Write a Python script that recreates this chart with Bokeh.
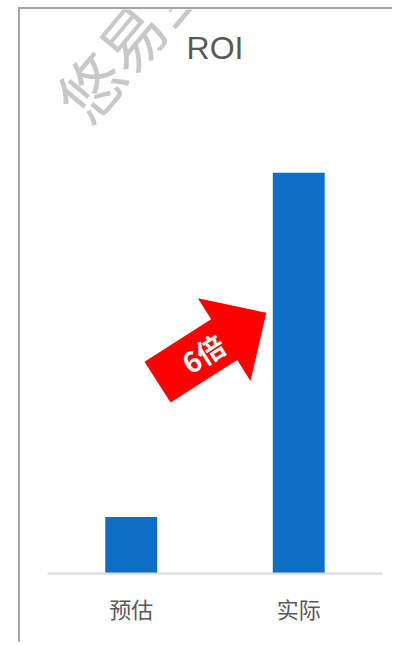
import math
from bokeh.plotting import figure
from bokeh.models import FactorRange, Range1d, Label
from bokeh.core.properties import value
from bokeh.embed import file_html
from bokeh.resources import INLINE

# ---- data ----
CATEGORIES = ["预估", "实际"]
ROI_VALUES = [1.0, 7.1]
TITLE = "ROI"
ARROW_TEXT = "6倍"
WATERMARK = "悠易互通"

# ---- layout ----
W, H = 374, 635
BL, BR, BT, BB = 27, 12, 0, 71
Y_END = 9.99
FW, FH = W - BL - BR, H - BT - BB
PX_X = FW / len(CATEGORIES)      # pixels per category unit
PX_Y = FH / Y_END                # pixels per value unit

CJK = "Noto Sans CJK SC"

p = figure(width=W, height=H,
           x_range=FactorRange(factors=CATEGORIES, range_padding=0),
           y_range=Range1d(0, Y_END),
           output_backend="svg", toolbar_location=None,
           min_border_left=BL, min_border_right=BR,
           min_border_top=BT, min_border_bottom=BB)
p.styles = {"margin-left": "18px", "margin-top": "7px",
            "border-left": "2px solid #a6a6a6",
            "border-top": "2px solid #a6a6a6"}

p.outline_line_color = None
p.background_fill_color = "white"
p.border_fill_color = "white"
p.xgrid.visible = False
p.ygrid.visible = False
p.yaxis.visible = False

ax = p.xaxis[0]
ax.axis_line_color = "#d9d9d9"
ax.axis_line_width = 2
ax.major_tick_line_color = None
ax.minor_tick_line_color = None
ax.major_label_text_font = CJK
ax.major_label_text_font_size = "22px"
ax.major_label_text_color = "#595959"
ax.major_label_standoff = 12

p.vbar(x=CATEGORIES, top=ROI_VALUES, width=0.31, color="#0f6fc6", line_color=None)

# ---- title (inside the frame so the watermark is not cut) ----
title = Label(x=1.0, y=9.30, text=TITLE, text_font="Liberation Sans",
              text_font_size="32px", text_color="#595959",
              text_align="center", text_baseline="alphabetic")
p.add_layout(title)

# ---- annotation arrow (pixel geometry converted to data units) ----
TAIL = (0.657, 3.39)
ANG = math.radians(32.5)
L, HL, BW, HW = 129, 50, 48.5, 98
local = [(0, -BW / 2), (L - HL, -BW / 2), (L - HL, -HW / 2), (L, 0),
         (L - HL, HW / 2), (L - HL, BW / 2), (0, BW / 2)]


def to_data(u, v):
    dx = u * math.cos(ANG) - v * math.sin(ANG)
    dy = u * math.sin(ANG) + v * math.cos(ANG)
    return TAIL[0] + dx / PX_X, TAIL[1] + dy / PX_Y


pts = [to_data(u, v) for u, v in local]
p.patch([q[0] for q in pts], [q[1] for q in pts], color="#ff0000", line_color=None)

tx, ty = to_data(54, 0)
p.text(x=[tx], y=[ty], text=[ARROW_TEXT], angle=32.5, angle_units="deg",
       text_color="white", text_font=value(CJK), text_font_style="bold",
       text_font_size="28px", text_align="center", text_baseline="middle")

# ---- watermark ----
wm = Label(x=0.122, y=8.21, text=WATERMARK, angle=50, angle_units="deg",
           text_font=CJK, text_font_size="64px", text_color="#c8c8c8",
           text_align="left", text_baseline="middle")
p.add_layout(wm)

open("out.html", "w").write(file_html(p, INLINE))
